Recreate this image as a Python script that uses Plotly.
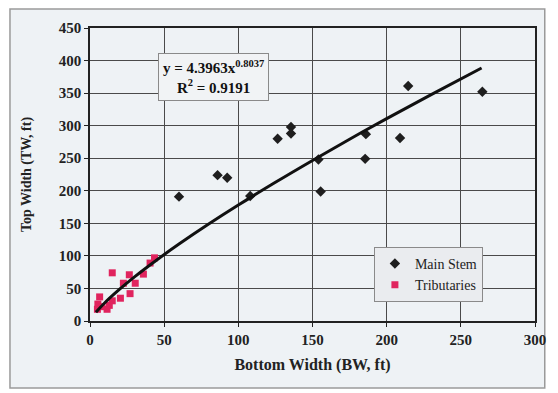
import plotly.graph_objects as go

main_bw = [60, 86, 92.5, 108, 126.5, 135.5, 135.5, 154, 155.5, 186, 185.5, 209, 214.5, 264.5]
main_tw = [191, 224, 220, 192, 280, 298, 288, 248, 199, 287, 249, 281, 361, 352]

trib_bw = [15, 26.5, 36, 40.5, 43.5, 22.5, 30.5, 27, 20.5, 15, 6.5, 5.3, 5, 11.5, 8, 13]
trib_tw = [74, 71, 72, 89, 97, 58, 58, 42, 35, 31, 37, 26, 18, 18, 22, 24]

fit_bw = [4, 10, 20, 30, 45, 60, 80, 100, 125, 150, 175, 200, 230, 264]
fit_tw = [13.4, 28.0, 48.8, 67.7, 93.7, 118.1, 148.8, 178.0, 213.0, 246.6, 279.2, 310.8, 347.7, 388.5]

x_ticks = [0, 50, 100, 150, 200, 250, 300]
y_ticks = [0, 50, 100, 150, 200, 250, 300, 350, 400, 450]

serif = "Liberation Serif, Times New Roman, serif"
bold = dict(family=serif, size=15, color="#222222", weight="bold")

fig = go.Figure()
fig.add_trace(go.Scatter(x=main_bw, y=main_tw, mode="markers", name="Main Stem",
                         marker=dict(symbol="diamond", size=8, color="#1e1e1e")))
fig.add_trace(go.Scatter(x=trib_bw, y=trib_tw, mode="markers", name="Tributaries",
                         marker=dict(symbol="square", size=7, color="#e0245e")))
fig.add_trace(go.Scatter(x=fit_bw, y=fit_tw, mode="lines", showlegend=False,
                         line=dict(color="#111111", width=3, shape="spline")))

fig.update_layout(
    width=558, height=393,
    margin=dict(l=90, r=12, t=28, b=72),
    paper_bgcolor="white",
    plot_bgcolor="#e2e2e2",
    font=dict(family=serif, size=13, color="#222222"),
    shapes=[dict(type="rect", xref="paper", yref="paper", layer="below",
                 x0=-82/456, x1=1.0 + 10/456, y0=-67/293, y1=1.0 + 19/293,
                 line=dict(color="#9a9a9a", width=1.5), fillcolor="#eef2f5")],
    legend=dict(x=0.638, y=0.253, xanchor="left", yanchor="top",
                bgcolor="#eaecef", bordercolor="#8a8a8a", borderwidth=1,
                font=dict(family=serif, size=14, color="#222222"),
                itemwidth=30, tracegroupgap=2),
    annotations=[dict(x=83, y=375, xref="x", yref="y", showarrow=False,
                      text="y = 4.3963x<sup>0.8037</sup><br>R<sup>2</sup> = 0.9191",
                      font=dict(family=serif, size=15, color="#111111", weight="bold"),
                      bgcolor="#f1f3f5", bordercolor="#8a8a8a", borderwidth=1, borderpad=4)],
)
fig.update_xaxes(range=[0, 300], tickvals=x_ticks, showgrid=True, gridcolor="#4a4a4a", gridwidth=1,
                 showline=True, linecolor="#222222", linewidth=1.5, mirror=True, zeroline=False,
                 ticks="outside", ticklen=4, tickcolor="#222222",
                 tickfont=bold,
                 title=dict(text="Bottom Width (BW, ft)", standoff=12,
                            font=dict(family=serif, size=16, color="#222222", weight="bold")))
fig.update_yaxes(range=[0, 450], tickvals=y_ticks, showgrid=True, gridcolor="#4a4a4a", gridwidth=1,
                 showline=True, linecolor="#222222", linewidth=1.5, mirror=True, zeroline=False,
                 ticks="outside", ticklen=4, tickcolor="#222222",
                 tickfont=bold,
                 title=dict(text="Top Width (TW, ft)", standoff=24,
                            font=dict(family=serif, size=14, color="#222222", weight="bold")))

fig.write_html("out.html")
